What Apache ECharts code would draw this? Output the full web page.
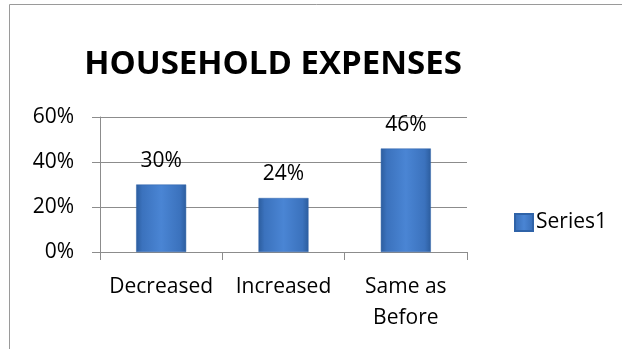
<!DOCTYPE html>
<html>
<head>
<meta charset="utf-8">
<script src="https://cdn.jsdelivr.net/npm/echarts@6/dist/echarts.min.js"></script>
<style>html,body{margin:0;padding:0;background:#fff}#c{width:622px;height:349px}</style>
</head>
<body>
<div id="c"></div>
<script>
const categories = ['Decreased', 'Increased', 'Same as\nBefore'];
const series1 = [30, 24, 46];
const yTicks = [0, 20, 40, 60];
const FONT = 'Open Sans';

const chart = echarts.init(document.getElementById('c'), null, {renderer: 'canvas'});
chart.setOption({
  animation: false,
  backgroundColor: '#fff',
  title: {
    text: 'HOUSEHOLD EXPENSES',
    left: 268, top: 43, textAlign: 'center',
    textStyle: {fontFamily: FONT, fontWeight: 'bold', fontSize: 33, color: '#000'}
  },
  graphic: [{
    type: 'rect', shape: {x: 9.5, y: 4.5, width: 1000, height: 1000},
    style: {fill: 'none', stroke: '#9a9a9a', lineWidth: 1}, silent: true
  }],
  legend: {
    data: ['Series1'], orient: 'vertical', left: 509, top: 207,
    icon: 'rect', itemWidth: 18, itemHeight: 17, itemGap: 4,
    textStyle: {fontFamily: FONT, fontSize: 21, color: '#000', padding: [0, 0, 0, -2]}
  },
  grid: {left: 100, right: 155, top: 117, bottom: 97},
  xAxis: {
    type: 'category', data: categories,
    axisLine: {lineStyle: {color: '#8c8c8c', width: 1}},
    axisTick: {show: true, length: 8, alignWithLabel: false, lineStyle: {color: '#8c8c8c'}},
    axisLabel: {interval: 0, hideOverlap: false, fontFamily: FONT, fontSize: 21, color: '#000', margin: 20, lineHeight: 31}
  },
  yAxis: {
    type: 'value', min: 0, max: 60, interval: 20,
    axisLine: {show: true, lineStyle: {color: '#8c8c8c', width: 1}},
    axisTick: {show: true, length: 8, lineStyle: {color: '#8c8c8c'}},
    splitLine: {lineStyle: {color: '#8c8c8c', width: 1}},
    axisLabel: {fontFamily: FONT, fontSize: 21, color: '#000', margin: 26,
      formatter: v => yTicks.includes(v) ? v + '%' : ''}
  },
  series: [{
    name: 'Series1', type: 'bar', data: series1, barWidth: 50,
    itemStyle: {
      color: new echarts.graphic.LinearGradient(0, 0, 1, 0, [
        {offset: 0, color: '#2c5d9e'},
        {offset: 0.12, color: '#3b72bd'},
        {offset: 0.5, color: '#4a85d4'},
        {offset: 0.88, color: '#3b72bd'},
        {offset: 1, color: '#2c5d9e'}
      ]),
      borderColor: '#2f63a8', borderWidth: 0.5
    },
    label: {show: true, position: 'top', distance: 13, formatter: p => p.value + '%',
      fontFamily: FONT, fontSize: 21, color: '#000'}
  }]
});
</script>
</body>
</html>
